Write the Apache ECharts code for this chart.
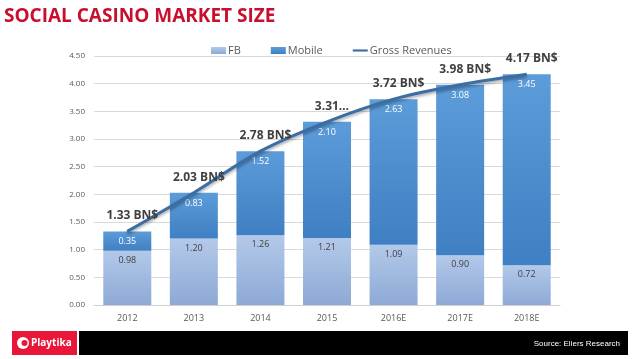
<!DOCTYPE html>
<html><head><meta charset="utf-8">
<script src="https://cdn.jsdelivr.net/npm/echarts@6/dist/echarts.min.js"></script>
<style>html,body{margin:0;padding:0;background:#fff}#c{width:638px;height:359px}</style>
</head><body><div id="c"></div>
<script>
var categories = ['2012','2013','2014','2015','2016E','2017E','2018E'];
var fbValues = [0.98,1.20,1.26,1.21,1.09,0.90,0.72];
var mobileValues = [0.35,0.83,1.52,2.10,2.63,3.08,3.45];
var grossValues = [1.33,2.03,2.78,3.31,3.72,3.98,4.17];
var grossLabels = ['1.33 BN$','2.03 BN$','2.78 BN$','3.31…','3.72 BN$','3.98 BN$','4.17 BN$'];
var yTicks = ['0.00','0.50','1.00','1.50','2.00','2.50','3.00','3.50','4.00','4.50'];

var chart = echarts.init(document.getElementById('c'));
function grad(top, bottom){
  return new echarts.graphic.LinearGradient(0,0,0,1,[{offset:0,color:top},{offset:1,color:bottom}]);
}
chart.setOption({
  animation:false,
  backgroundColor:'#ffffff',
  textStyle:{fontFamily:'"Open Sans", sans-serif'},
  title:{text:'SOCIAL CASINO MARKET SIZE',left:-1,top:2,
    textStyle:{color:'#c8102e',fontSize:19,fontWeight:'bold',fontFamily:'"Open Sans", sans-serif'}},
  legend:{top:40,left:206,itemGap:30,itemWidth:15,itemHeight:7,
    textStyle:{color:'#595959',fontSize:11,padding:[0,0,0,-3]},
    data:[
      {name:'FB',icon:'rect'},
      {name:'Mobile',icon:'rect'},
      {name:'Gross Revenues',icon:'path://M0,0 L14,0 L14,2 L0,2 Z'}
    ]},
  grid:{left:94,right:78,top:56,bottom:54},
  xAxis:{type:'category',data:categories,
    axisLine:{lineStyle:{color:'#d0d0d0'}},axisTick:{show:false},
    axisLabel:{color:'#595959',fontSize:9,margin:9}},
  yAxis:{type:'value',min:0,max:4.5,interval:0.5,
    axisLine:{show:false},axisTick:{show:false},
    splitLine:{lineStyle:{color:'#d9d9d9'}},
    axisLabel:{color:'#595959',fontSize:8,margin:9,formatter:function(v){return yTicks[Math.round(v/0.5)];}}},
  series:[
    {name:'FB',type:'bar',stack:'s',barWidth:48,data:fbValues,
      itemStyle:{color:grad('#b3c9e9','#8da9d5')},
      label:{show:true,position:'insideTop',distance:5,color:'#404040',fontSize:9,
        formatter:function(p){return p.value.toFixed(2);}}},
    {name:'Mobile',type:'bar',stack:'s',data:mobileValues,
      itemStyle:{color:grad('#5c9cd9','#3f7fc3')},
      label:{show:true,position:'insideTop',distance:6,color:'#ffffff',fontSize:9,
        formatter:function(p){return p.value.toFixed(2);}}},
    {name:'Gross Revenues',type:'line',data:grossValues,smooth:0.3,
      symbol:'circle',symbolSize:1,
      itemStyle:{color:'#3a6ea5'},
      lineStyle:{color:'#3a6ea5',width:3,shadowColor:'rgba(0,0,0,0.35)',shadowBlur:3,shadowOffsetY:2},
      label:{show:true,position:'top',distance:9,offset:[5,0],color:'#404040',fontSize:12,fontWeight:'bold',
        formatter:function(p){return grossLabels[p.dataIndex];}},
      z:5}
  ],
  graphic:[
    {type:'rect',shape:{x:12,y:331,width:65,height:24},style:{fill:'#e8173a'}},
    {type:'circle',shape:{cx:23,cy:343,r:6},style:{fill:'#ffffff'}},
    {type:'circle',shape:{cx:24.5,cy:343,r:3},style:{fill:'#e8173a'}},
    {type:'text',x:31,y:343,style:{text:'Playtika',fill:'#ffffff',font:'bold 10px "Open Sans", sans-serif',verticalAlign:'middle'}},
    {type:'rect',shape:{x:79,y:331,width:549,height:24},style:{fill:'#000000'}},
    {type:'text',x:620,y:344,style:{text:'Source: Eilers Research',fill:'#ffffff',font:'8px "Liberation Sans", sans-serif',align:'right',verticalAlign:'middle'}}
  ]
});
</script></body></html>
